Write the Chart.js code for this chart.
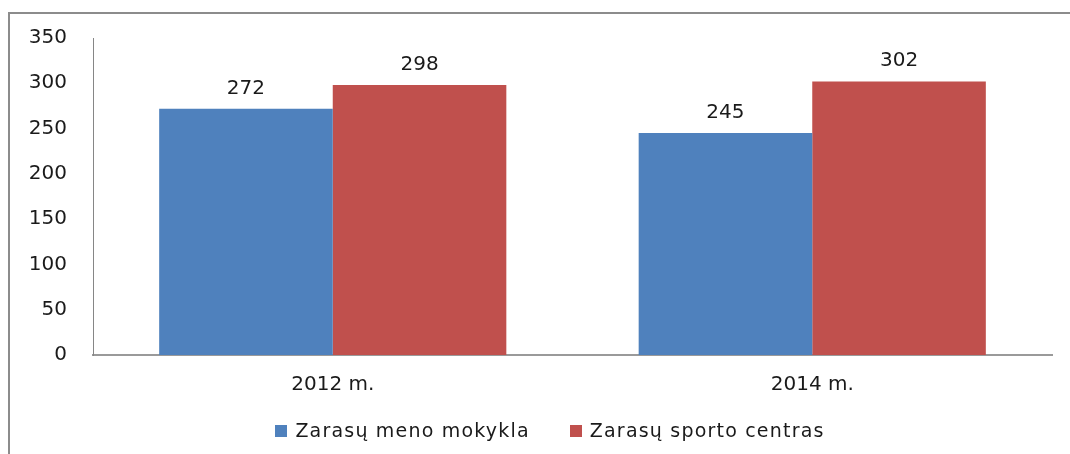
<!DOCTYPE html>
<html>
<head>
<meta charset="utf-8">
<script src="https://cdn.jsdelivr.net/npm/chart.js@4"></script>
<style>
    body { margin: 0; background: #fff; overflow: hidden; }
    #wrap { position: relative; width: 1070px; height: 454px; }
    #frame {
        position: absolute; left: 8px; top: 12px; width: 1100px; height: 500px;
        border: 2px solid #8c8c8c; pointer-events: none;
    }
    #legend {
        position: absolute; left: 0; top: 419px; width: 1100px; text-align: center;
        font-family: "DejaVu Sans", sans-serif; font-size: 19px; color: #1a1a1a;
        letter-spacing: 1.2px;
    }
    #legend span.item { margin: 0 20px; white-space: nowrap; }
    #legend span.box { display: inline-block; width: 12px; height: 12px; margin-right: 8px; }
</style>
</head>
<body>
<div id="wrap">
    <canvas id="chart" width="1070" height="454"></canvas>
    <div id="frame"></div>
    <div id="legend"></div>
</div>
<script>
// datos del gráfico
const categorias = ['2012 m.', '2014 m.'];
const series = ['Zarasų meno mokykla', 'Zarasų sporto centras'];
const meno = [272, 245];
const sporto = [298, 302];
const colores = ['#4F81BD', '#C0504D'];

// etiquetas de valor encima de cada barra
const etiquetasValor = {
    id: 'etiquetasValor',
    afterDatasetsDraw(chart) {
        const ctx = chart.ctx;
        ctx.save();
        ctx.font = '20px "DejaVu Sans", sans-serif';
        ctx.fillStyle = '#1a1a1a';
        ctx.textAlign = 'center';
        ctx.textBaseline = 'alphabetic';
        chart.data.datasets.forEach((ds, i) => {
            chart.getDatasetMeta(i).data.forEach((bar, j) => {
                ctx.fillText(ds.data[j], bar.x, bar.y - 15);
            });
        });
        ctx.restore();
    }
};

const ctx = document.getElementById('chart').getContext('2d');
const chart = new Chart(ctx, {
    type: 'bar',
    data: {
        labels: categorias,
        datasets: [
            { label: series[0], data: meno, backgroundColor: colores[0] },
            { label: series[1], data: sporto, backgroundColor: colores[1] }
        ]
    },
    options: {
        responsive: false,
        animation: false,
        layout: { padding: { top: 38, right: 18, bottom: 0, left: 0 } },
        datasets: { bar: { categoryPercentage: 0.724, barPercentage: 1 } },
        scales: {
            x: {
                grid: { display: false, drawTicks: false },
                border: { color: '#9a9a9a', width: 2 },
                ticks: { color: '#1a1a1a', padding: 18, font: { family: 'DejaVu Sans', size: 20 } },
                afterFit: s => { s.height = 99; }
            },
            y: {
                min: 0,
                max: 350,
                grid: { display: false, drawTicks: false },
                border: { color: '#868686', width: 1 },
                ticks: { stepSize: 50, color: '#1a1a1a', padding: 26, font: { family: 'DejaVu Sans', size: 20 } },
                afterFit: s => { s.width = 93; }
            }
        },
        plugins: {
            legend: { display: false },
            tooltip: { enabled: false }
        }
    },
    plugins: [etiquetasValor]
});

// leyenda en HTML
document.getElementById('legend').innerHTML = series.map((s, i) =>
    `<span class="item"><span class="box" style="background:${colores[i]}"></span>${s}</span>`
).join('');
</script>
</body>
</html>
